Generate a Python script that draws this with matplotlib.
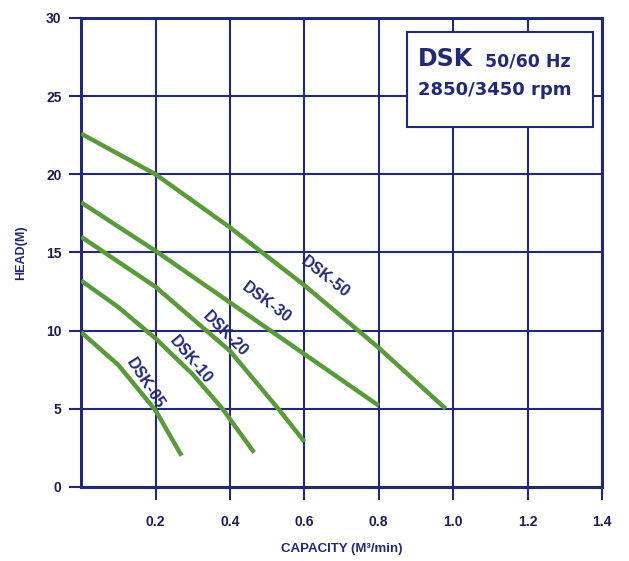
import matplotlib.pyplot as plt

# values
models = ["DSK-50", "DSK-30", "DSK-20", "DSK-10", "DSK-05"]
capacity = [
    [0.0, 0.2, 0.4, 0.6, 0.8, 0.98],
    [0.0, 0.2, 0.4, 0.6, 0.8],
    [0.0, 0.2, 0.4, 0.53, 0.6],
    [0.0, 0.1, 0.2, 0.3, 0.38, 0.465],
    [0.0, 0.1, 0.2, 0.27],
]
head = [
    [22.6, 20.0, 16.6, 12.9, 8.9, 5.0],
    [18.2, 15.1, 11.8, 8.5, 5.2],
    [16.0, 12.8, 8.7, 5.0, 2.9],
    [13.2, 11.5, 9.5, 7.2, 5.0, 2.2],
    [9.9, 7.8, 4.9, 2.0],
]
label_x = [0.655, 0.4985, 0.388, 0.294, 0.172]
label_y = [13.45, 11.8, 9.8, 8.14, 6.6]
label_rot = [-38, -37, -45, -50, -57]

x_ticks = [0.2, 0.4, 0.6, 0.8, 1.0, 1.2, 1.4]
y_ticks = [0, 5, 10, 15, 20, 25, 30]

navy = "#232a72"
green = "#5b9a3c"
font = "Liberation Sans"

fig = plt.figure(figsize=(6.29, 5.61), dpi=100)
ax = fig.add_axes([0.129, 0.132, 0.828, 0.836])

for i, name in enumerate(models):
    ax.plot(capacity[i], head[i], color=green, lw=3.2, solid_capstyle="butt",
            solid_joinstyle="round", zorder=3)
    ax.text(label_x[i], label_y[i], name, rotation=label_rot[i], color=navy,
            fontsize=11.5, fontweight="bold", family=font,
            ha="center", va="center", rotation_mode="anchor", zorder=4)

ax.set_xlim(0, 1.4)
ax.set_ylim(0, 30)
ax.set_xticks(x_ticks)
ax.set_xticklabels([f"{v:.1f}" for v in x_ticks])
ax.set_yticks(y_ticks)
ax.grid(True, color=navy, lw=1.5, zorder=1)
for s in ax.spines.values():
    s.set_color(navy)
    s.set_linewidth(2.2)
ax.tick_params(colors=navy, width=1.5, length=9, labelsize=10)
ax.tick_params(axis="x", pad=11)
ax.tick_params(axis="y", pad=5)
for lab in ax.get_xticklabels() + ax.get_yticklabels():
    lab.set_fontweight("bold")
    lab.set_family(font)
    lab.set_color("#1c1f4a")

ax.set_xlabel("CAPACITY (M³/min)", color=navy, fontsize=9.5, fontweight="bold",
              family=font, labelpad=10)
ax.set_ylabel("HEAD(M)", color=navy, fontsize=9, fontweight="bold",
              family=font, labelpad=14)

# info box top right
ax.fill([0.876, 1.376, 1.376, 0.876], [23.0, 23.0, 29.1, 29.1], facecolor="white",
        edgecolor=navy, lw=1.5, zorder=5)
ax.text(0.906, 26.9, "DSK", color=navy, fontsize=17, fontweight="bold",
        family="DejaVu Sans", va="baseline", zorder=6)
ax.text(1.085, 26.9, "50/60 Hz", color=navy, fontsize=12.5, fontweight="bold",
        family="DejaVu Sans", va="baseline", zorder=6)
ax.text(0.906, 25.1, "2850/3450 rpm", color=navy, fontsize=13, fontweight="bold",
        family="DejaVu Sans", va="baseline", zorder=6)

fig.savefig("out.png", dpi=100)
